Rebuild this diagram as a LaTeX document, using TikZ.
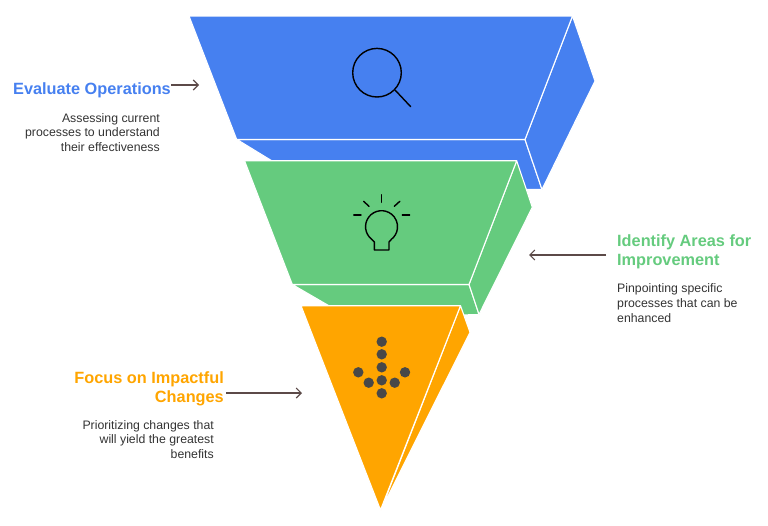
\documentclass[tikz,border=0pt]{standalone}
\usepackage{fontspec}
\setmainfont{Liberation Sans}
\usetikzlibrary{arrows.meta}
\definecolor{blueface}{HTML}{4680F0}
\definecolor{greenface}{HTML}{65CB7E}
\definecolor{orangeface}{HTML}{FFA500}
\definecolor{pointerbrown}{HTML}{5C4A48}
\definecolor{bodygrey}{HTML}{333333}
\definecolor{dotgrey}{HTML}{484848}
\tikzset{
	face/.style={draw=white, line width=1.1pt, line join=round},
	icon/.style={draw=black, line width=1.4pt, line cap=round, line join=round},
	dotmark/.style={fill=dotgrey},
	pointer/.style={draw=pointerbrown, line width=1.1pt, -{Straight Barb[length=5pt,width=10pt]}},
	heading/.style={font=\fontsize{16.3}{19}\selectfont\bfseries, inner sep=0pt},
	caption/.style={font=\fontsize{12.3}{14.7}\selectfont, text=bodygrey, inner sep=0pt},
}
\begin{document}
\begin{tikzpicture}[x=1pt, y=-1pt]
		%%%%% START %%%%%
		\useasboundingbox (0, 0) rectangle (768, 525);
		
		% blue layer
		\draw[face, fill=blueface] (237, 139.5) -- (295, 175) -- (295, 189.5) -- (542, 189.5) -- (525, 139.5) -- cycle;
		\draw[face, fill=blueface] (572.5, 16) -- (595, 81) -- (542, 189.5) -- (525, 139.5) -- cycle;
		\draw[face, fill=blueface] (189, 16) -- (572.5, 16) -- (525, 139.5) -- (236.7, 139.5) -- cycle;
		
		\draw[icon] (377, 72.7) circle (24.3);
		\draw[icon] (395, 90) -- (410.7, 106.7);
		
		% green layer
		\draw[face, fill=greenface] (292.3, 284.5) -- (350, 318) -- (479, 314.5) -- (469, 284.5) -- cycle;
		\draw[face, fill=greenface] (516.7, 160.7) -- (532.3, 207.3) -- (479, 314.5) -- (469, 284.5) -- cycle;
		\draw[face, fill=greenface] (244.5, 160.7) -- (516.7, 160.7) -- (469, 284.5) -- (292.3, 284.5) -- cycle;
		
		\draw[icon] (371.7, 239.3) arc (128:412:16) -- (389, 242) -- (389, 250) -- (374.3, 250) -- (374.3, 242) -- cycle;
		\draw[icon] (381.7, 194.8) -- (381.7, 202.3);
		\draw[icon] (353.8, 215) -- (361, 215);
		\draw[icon] (402.3, 215) -- (409.6, 215);
		\draw[icon] (363.6, 201.3) -- (369, 206.3);
		\draw[icon] (399.8, 201.3) -- (394.3, 206.3);
		
		% orange layer
		\draw[face, fill=orangeface] (460.5, 305.7) -- (470, 332.3) -- (381, 510) -- cycle;
		\draw[face, fill=orangeface] (301, 305.7) -- (460.5, 305.7) -- (380.5, 510) -- cycle;
		
		\foreach \px/\py in {381.7/341.7, 381.7/354.3, 381.7/367.3, 381.7/380.3, 381.7/393.3, 358.3/372.3, 368.7/382.7, 394.7/382.7, 405/372.3}
			\fill[dotmark] (\px, \py) circle (5.2);
		
		% labels
		\node[heading, text=blueface, anchor=base east] (evaluateTitle) at (171, 94) {Evaluate Operations};
		\node[caption, align=right, anchor=north east] (evaluateText) at (160, 113) {Assessing current\\processes to understand\\their effectiveness};
		
		\node[heading, text=greenface, align=left, anchor=north west] (identifyTitle) at (617, 234) {Identify Areas for\\Improvement};
		\node[caption, align=left, anchor=north west] (identifyText) at (617, 283.5) {Pinpointing specific\\processes that can be\\enhanced};
		
		\node[heading, text=orangeface, align=right, anchor=north east] (focusTitle) at (224, 371) {Focus on Impactful\\Changes};
		\node[caption, align=right, anchor=north east] (focusText) at (214, 420) {Prioritizing changes that\\will yield the greatest\\benefits};
		
		% pointers
		\coordinate (evaluateTip) at (199, 85);
		\coordinate (identifyStart) at (606, 255);
		\coordinate (identifyTip) at (529, 255);
		\coordinate (focusStart) at (226, 393);
		\coordinate (focusTip) at (302, 393);
		\draw[pointer] (evaluateTitle.east |- evaluateTip) -- (evaluateTip);
		\draw[pointer] (identifyStart) -- (identifyTip);
		\draw[pointer] (focusStart) -- (focusTip);
		
		%%%%% END %%%%%
	\end{tikzpicture}
\end{document}
